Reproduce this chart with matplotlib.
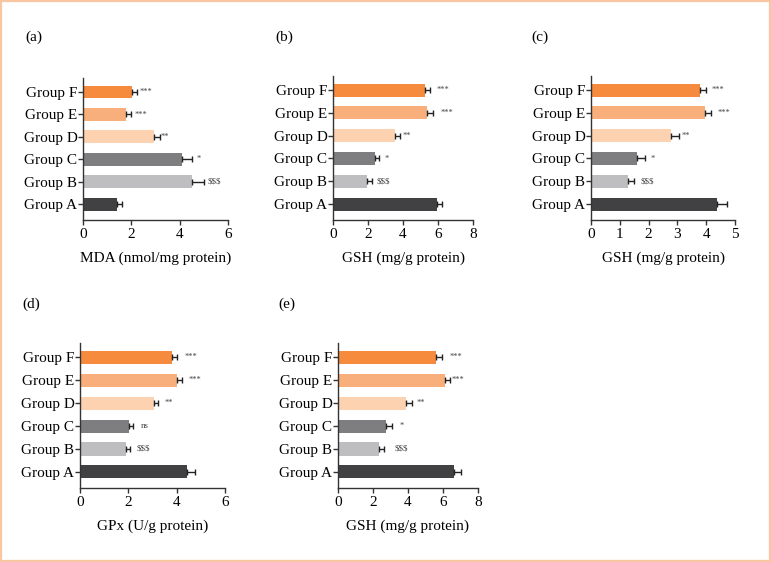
import matplotlib
matplotlib.use("Agg")
import matplotlib.pyplot as plt
from matplotlib.patches import Rectangle

plt.rcParams['font.family'] = ['Liberation Serif', 'DejaVu Serif']

groups = ["Group A", "Group B", "Group C", "Group D", "Group E", "Group F"]
colors = ["#414143", "#BEBEC0", "#7E7E81", "#FDD2B0", "#F9AF7B", "#F68B3D"]

# panel (a) MDA
mda_vals = [1.41, 4.5, 4.11, 2.92, 1.79, 2.04]
mda_err = [0.22, 0.49, 0.41, 0.25, 0.21, 0.18]
mda_sig = ["", "$$$", "*", "**", "***", "***"]
mda_sig_x = [0, 5.45, 4.8, 3.4, 2.4, 2.6]

# panel (b) GSH
gshb_vals = [5.96, 1.96, 2.38, 3.56, 5.38, 5.28]
gshb_err = [0.24, 0.29, 0.25, 0.24, 0.32, 0.24]
gshb_sig = ["", "$$$", "*", "**", "***", "***"]
gshb_sig_x = [0, 2.9, 3.05, 4.2, 6.5, 6.3]

# panel (c) GSH
gshc_vals = [4.39, 1.27, 1.61, 2.77, 3.96, 3.78]
gshc_err = [0.32, 0.21, 0.26, 0.29, 0.21, 0.2]
gshc_sig = ["", "$$$", "*", "**", "***", "***"]
gshc_sig_x = [0, 1.96, 2.16, 3.3, 4.6, 4.42]

# panel (d) GPx
gpx_vals = [4.43, 1.91, 2.02, 3.05, 4.03, 3.81]
gpx_err = [0.32, 0.14, 0.17, 0.16, 0.21, 0.22]
gpx_sig = ["", "$$$", "ns", "**", "***", "***"]
gpx_sig_x = [0, 2.6, 2.67, 3.67, 4.75, 4.6]

# panel (e) GSH
gshe_vals = [6.65, 2.32, 2.76, 3.9, 6.13, 5.62]
gshe_err = [0.4, 0.29, 0.33, 0.33, 0.29, 0.3]
gshe_sig = ["", "$$$", "*", "**", "***", "***"]
gshe_sig_x = [0, 3.62, 3.62, 4.72, 6.86, 6.72]

W, H = 771, 562
fig = plt.figure(figsize=(W / 100, H / 100), dpi=100)

def px_axes(left, right, top, bottom):
    return fig.add_axes([left / W, 1 - bottom / H, (right - left) / W, (bottom - top) / H])

panels = [
    ("(a)", (25, 37), (83, 228, 78, 220), mda_vals, mda_err, mda_sig, mda_sig_x, 6, [0, 2, 4, 6], "MDA (nmol/mg protein)"),
    ("(b)", (275, 37), (333, 473, 76, 220), gshb_vals, gshb_err, gshb_sig, gshb_sig_x, 8, [0, 2, 4, 6, 8], "GSH (mg/g protein)"),
    ("(c)", (531, 37), (591, 735, 76, 220), gshc_vals, gshc_err, gshc_sig, gshc_sig_x, 5, [0, 1, 2, 3, 4, 5], "GSH (mg/g protein)"),
    ("(d)", (22, 304), (80, 225, 343, 488), gpx_vals, gpx_err, gpx_sig, gpx_sig_x, 6, [0, 2, 4, 6], "GPx (U/g protein)"),
    ("(e)", (278, 304), (338, 478, 343, 488), gshe_vals, gshe_err, gshe_sig, gshe_sig_x, 8, [0, 2, 4, 6, 8], "GSH (mg/g protein)"),
]

spine_col = "#333333"
for label, (lx, ly), box, vals, errs, sigs, sigx, xmax, ticks, xlabel in panels:
    ax = px_axes(*box)
    ypos = list(range(len(groups)))
    ax.barh(ypos, vals, height=0.57, color=colors, zorder=2)
    ax.errorbar(vals, ypos, xerr=[[0] * len(errs), errs], fmt="none",
                ecolor="#222222", elinewidth=1.0, capsize=2.5, capthick=1.0, zorder=3)
    for y, s, sx in zip(ypos, sigs, sigx):
        if s:
            ax.text(sx, y, s, fontsize=6.5 if s in ("ns", "$$$") else 6,
                    color="#444444", ha="center", va="center")
    ax.set_xlim(0, xmax)
    ax.set_ylim(-0.7, 5.62)
    ax.set_yticks(ypos)
    ax.set_yticklabels(groups, fontsize=11)
    ax.set_xticks(ticks)
    ax.set_xticklabels([str(t) for t in ticks], fontsize=11)
    ax.spines["top"].set_visible(False)
    ax.spines["right"].set_visible(False)
    for sp in ("left", "bottom"):
        ax.spines[sp].set_color(spine_col)
        ax.spines[sp].set_linewidth(1.0)
    ax.tick_params(axis="y", direction="out", length=3.5, width=1.0, color=spine_col, pad=0.5)
    ax.tick_params(axis="x", direction="out", length=3.5, width=1.0, color=spine_col, pad=2)
    ax.set_xlabel(xlabel, fontsize=11, labelpad=8)
    fig.text(lx / W, 1 - ly / H, label, fontsize=11, ha="left", va="center")

fig.patches.append(Rectangle((0.001, 0.001), 0.998, 0.997, transform=fig.transFigure,
                             fill=False, edgecolor="#F9C6A2", linewidth=1.6))

fig.savefig("out.png", dpi=100)
